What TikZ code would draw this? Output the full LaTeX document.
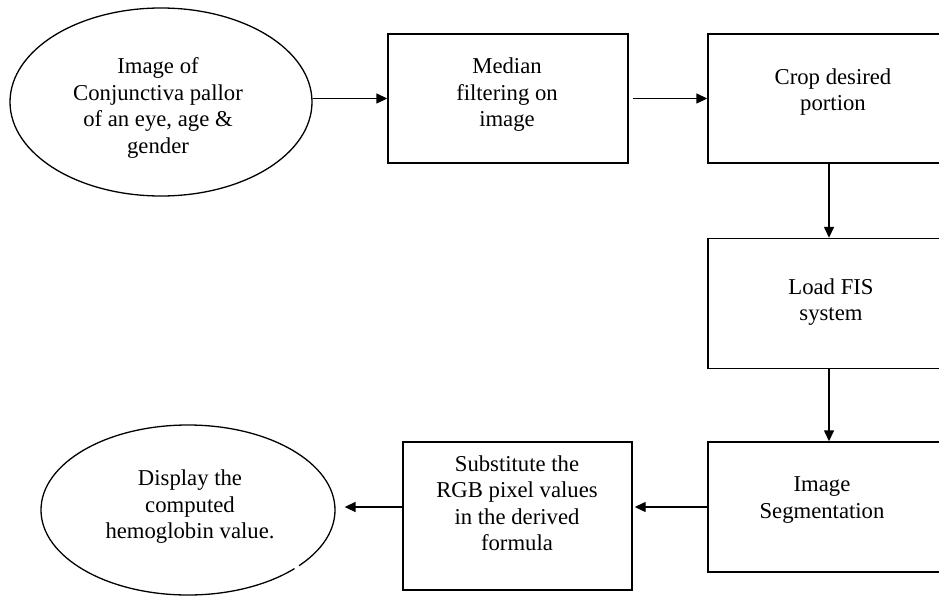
\documentclass[tikz,border=0pt]{standalone}
\usepackage{fontspec}
\setmainfont{Liberation Serif}
\usetikzlibrary{shapes.geometric,arrows.meta}
\tikzset{
  stepbox/.style={draw, line width=1.4pt, rectangle, inner sep=0pt, minimum width=242pt, minimum height=129pt},
  oval/.style={draw, line width=1.3pt, ellipse, inner sep=0pt},
  txt/.style={align=center, inner sep=0pt, font=\fontsize{22.7}{26.5}\selectfont},
  arr/.style={line width=1.4pt, -{Triangle[length=11pt,width=10pt]}}
}
\begin{document}
\begin{tikzpicture}[x=1pt,y=-1pt]
\useasboundingbox (0,0) rectangle (939,597);
\fill[white] (0,0) rectangle (939,597);
\begin{scope}
\clip (0,0) rectangle (939,597);
% shapes
\node[oval, minimum width=302pt, minimum height=188pt] (e1) at (161,102) {};
\node[stepbox, minimum width=240pt] (med) at (508,98.5) {};
\node[stepbox] (crop) at (829,98.5) {};
\node[stepbox, minimum height=130pt] (load) at (829,303.5) {};
\node[stepbox, minimum height=130pt] (seg) at (829,507) {};
\node[stepbox, minimum width=229pt, minimum height=148pt] (sub) at (517.5,516) {};
\node[oval, minimum width=294pt, minimum height=170pt] (e2) at (188,510) {};
\fill[white] (297,567.5) circle[radius=2.8pt];
% texts
\node[txt] (e1t) at (158,108) {Image of\\Conjunctiva pallor\\of an eye, age \&\\gender};
\node[txt] (medt) at (507,95) {Median\\filtering on\\image};
\node[txt] (cropt) at (833,92) {Crop desired\\portion};
\node[txt] (loadt) at (831,302) {Load FIS\\system};
\node[txt] (segt) at (822,500) {Image\\Segmentation};
\node[txt] (subt) at (517,503) {Substitute the\\RGB pixel values\\in the derived\\formula};
\node[txt] (e2t) at (190,507) {Display the\\computed\\hemoglobin value.};
% connectors
\draw[arr] (e1.east |- med.west) -- (med.west);
\draw[arr, shorten <=4pt] (med.east) -- (crop.west);
\draw[arr] (crop.south) -- (load.north);
\draw[arr] (load.south) -- (seg.north);
\draw[arr, shorten >=2pt] (seg.west) -- (seg.west -| sub.east);
\draw[arr, shorten >=9pt] (sub.west |- seg.west) -- (e2.east |- seg.west);
\end{scope}
\end{tikzpicture}
\end{document}
